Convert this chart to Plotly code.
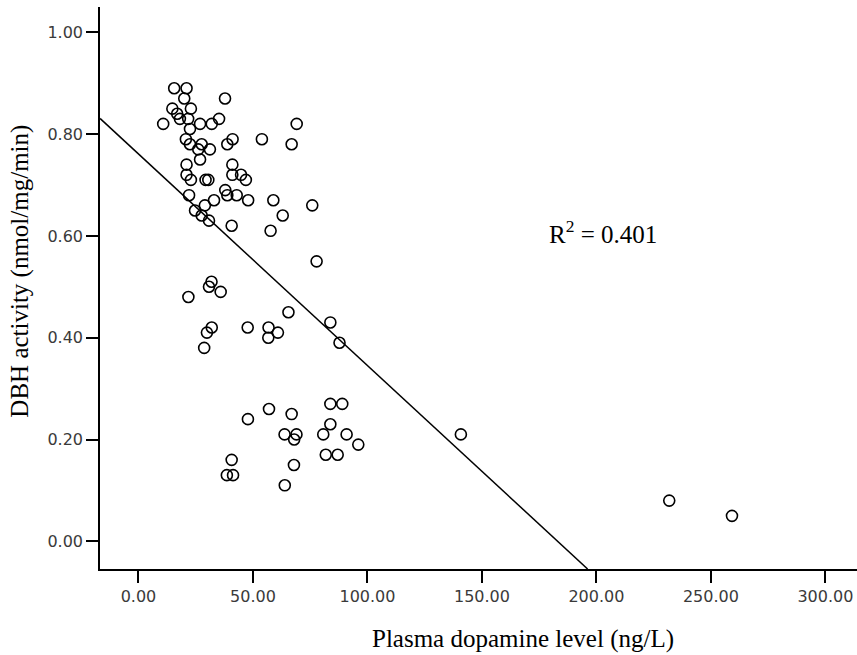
import plotly.graph_objects as go

# Plasma dopamine level (ng/L)
dopamine = [15.6, 21.0, 37.8, 20.0, 14.8, 22.9, 16.9, 18.1, 10.8, 21.7,
            22.5, 26.9, 32.0, 35.2, 20.7, 22.5, 27.6, 31.2, 26.1, 26.9,
            41.1, 38.8, 53.9, 69.1, 66.9, 21.0, 21.0, 22.9, 29.3, 30.5,
            41.0, 41.0, 44.8, 46.9, 22.1, 37.9, 38.8, 42.9, 47.9, 58.9,
            33.0, 29.0, 24.7, 63.0, 27.6, 30.8, 40.7, 57.7, 75.9, 77.8,
            31.9, 30.8, 35.9, 21.8, 65.5, 32.0, 29.9, 28.7, 47.7, 56.8,
            60.9, 56.7, 83.8, 87.8, 83.8, 89.0, 57.0, 47.8, 66.9, 83.8,
            80.7, 90.9, 96.0, 63.8, 69.0, 68.0, 81.8, 87.0, 67.9, 40.7,
            38.6, 41.3, 63.9, 140.8, 231.8, 259.2]
# DBH activity (nmol/mg/min)
dbh = [0.89, 0.89, 0.87, 0.87, 0.85, 0.85, 0.84, 0.83, 0.82, 0.83,
       0.81, 0.82, 0.82, 0.83, 0.79, 0.78, 0.78, 0.77, 0.77, 0.75,
       0.79, 0.78, 0.79, 0.82, 0.78, 0.74, 0.72, 0.71, 0.71, 0.71,
       0.74, 0.72, 0.72, 0.71, 0.68, 0.69, 0.68, 0.68, 0.67, 0.67,
       0.67, 0.66, 0.65, 0.64, 0.64, 0.63, 0.62, 0.61, 0.66, 0.55,
       0.51, 0.50, 0.49, 0.48, 0.45, 0.42, 0.41, 0.38, 0.42, 0.42,
       0.41, 0.40, 0.43, 0.39, 0.27, 0.27, 0.26, 0.24, 0.25, 0.23,
       0.21, 0.21, 0.19, 0.21, 0.21, 0.20, 0.17, 0.17, 0.15, 0.16,
       0.13, 0.13, 0.11, 0.21, 0.08, 0.05]

# Linear fit shown in the chart
fit_intercept = 0.761
fit_slope = -0.004157
r_squared = 0.401

x_ticks = [0, 50, 100, 150, 200, 250, 300]
y_ticks = [0.0, 0.2, 0.4, 0.6, 0.8, 1.0]
x_range = [-16.8, 313.8]
y_range = [-0.0544, 1.0497]

x_end = (y_range[0] - fit_intercept) / fit_slope
fit_x = [x_range[0], x_end]
fit_y = [fit_intercept + fit_slope * v for v in fit_x]

fig = go.Figure()
fig.add_trace(go.Scatter(
    x=fit_x, y=fit_y, mode="lines",
    line=dict(color="black", width=1.5), showlegend=False, hoverinfo="skip"))
fig.add_trace(go.Scatter(
    x=dopamine, y=dbh, mode="markers",
    marker=dict(symbol="circle-open", size=11, color="black",
                line=dict(width=1.6, color="black")),
    showlegend=False))

tick_font = dict(family="DejaVu Sans", size=16, color="#3a3a3a")
axis_common = dict(showline=True, linecolor="black", linewidth=1.5,
                   ticks="outside", ticklen=12, tickwidth=1.5, tickcolor="black",
                   showgrid=False, zeroline=False, mirror=False,
                   tickfont=tick_font, tickformat=".2f")

fig.update_xaxes(range=x_range, tickvals=x_ticks, **axis_common)
fig.update_yaxes(range=y_range, tickvals=y_ticks, **axis_common)

title_font = dict(family="Liberation Serif", size=25, color="black")
fig.update_layout(
    width=857, height=655,
    margin=dict(l=100, r=0, t=7, b=86),
    plot_bgcolor="white", paper_bgcolor="white",
    annotations=[
        dict(text="Plasma dopamine level (ng/L)", xref="paper", yref="paper",
             x=0.559, y=-0.125, xanchor="center", yanchor="middle",
             showarrow=False, font=title_font),
        dict(text="DBH activity (nmol/mg/min)", xref="paper", yref="paper",
             x=-0.105, y=0.53, xanchor="center", yanchor="middle",
             textangle=-90, showarrow=False, font=title_font),
        dict(text=f"R<sup>2</sup> = {r_squared:.3f}", xref="paper", yref="paper",
             x=0.664, y=0.60, xanchor="center", yanchor="middle",
             showarrow=False, font=title_font),
    ],
)

fig.write_html("out.html",
               config={"displayModeBar": False},
               post_script="document.body.style.margin='0';document.body.style.overflow='hidden';")
